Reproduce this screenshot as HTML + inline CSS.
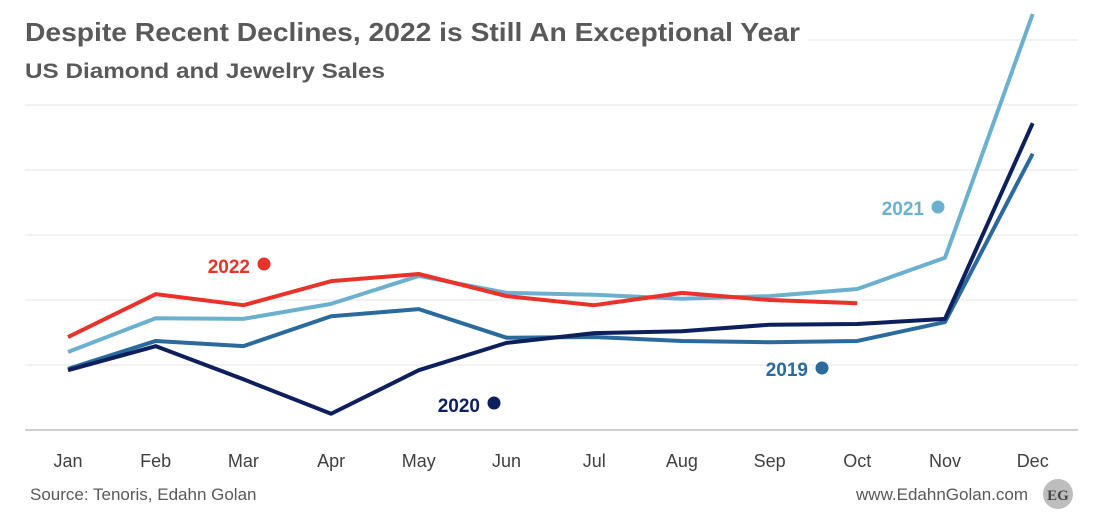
<!DOCTYPE html>
<html><head><meta charset="utf-8"><style>
body{margin:0;background:#fff;width:1119px;height:524px;overflow:hidden;font-family:"Liberation Sans",sans-serif}
</style></head><body>
<svg id="c" width="1119" height="524">
<g id="grid"></g><g id="lines"></g><g id="labels"></g>
<rect x="20" y="10" width="788" height="40" fill="#fff"/>
<text x="25" y="41" font-size="26" font-weight="bold" fill="#595959" textLength="775" lengthAdjust="spacingAndGlyphs">Despite Recent Declines, 2022 is Still An Exceptional Year</text>
<text x="25" y="78" font-size="21" font-weight="bold" fill="#595959" textLength="360" lengthAdjust="spacingAndGlyphs">US Diamond and Jewelry Sales</text>
<text x="30" y="500" font-size="17" fill="#595959">Source: Tenoris, Edahn Golan</text>
<text x="1028" y="500" font-size="17" fill="#595959" text-anchor="end">www.EdahnGolan.com</text>
<circle cx="1058" cy="494" r="15" fill="#bdbdbd"/>
<text x="1058" y="500" font-size="15" font-weight="bold" fill="#444" text-anchor="middle" font-family="Liberation Serif,serif">EG</text>
</svg>
<script>
const months=["Jan","Feb","Mar","Apr","May","Jun","Jul","Aug","Sep","Oct","Nov","Dec"];
const gridTicks=[0,1,2,3,4,5,6];
const s2019=[0.94,1.37,1.29,1.75,1.86,1.42,1.43,1.37,1.35,1.37,1.66,4.25];
const s2020=[0.92,1.29,0.78,0.25,0.92,1.34,1.49,1.52,1.62,1.63,1.71,4.72];
const s2021=[1.2,1.72,1.71,1.94,2.37,2.11,2.08,2.02,2.06,2.17,2.65,6.4];
const s2022=[1.43,2.09,1.92,2.29,2.4,2.06,1.92,2.11,2.0,1.95];
const NS="http://www.w3.org/2000/svg";
const x=i=>68+i*87.7, y=v=>430-v*65;
function mk(t,a,p){const e=document.createElementNS(NS,t);for(const k in a)e.setAttribute(k,a[k]);p.appendChild(e);return e;}
const g=document.getElementById('grid');
gridTicks.forEach(t=>{const l=mk('line',{x1:25,x2:1078,y1:y(t),y2:y(t),stroke:t==0?'#bfbfbf':'#e6e6e6','stroke-width':t==0?1.5:1},g);

});
months.forEach((m,i)=>{const t=mk('text',{x:x(i),y:467,'font-size':18,fill:'#404040','text-anchor':'middle'},g);t.textContent=m;

});
const L=document.getElementById('lines');
const series=[[s2019,'#2b6a9c','line-2019'],[s2020,'#0d1f5c','line-2020'],[s2021,'#6cb0cf','line-2021'],[s2022,'#e8322a','line-2022']];
series.forEach(([d,c,n])=>{const p=mk('polyline',{points:d.map((v,i)=>x(i)+','+y(v)).join(' '),fill:'none',stroke:c,'stroke-width':4,'stroke-linejoin':'round'},L);

});
const lab=document.getElementById('labels');
[["2022",'#e8322a',250,273,264],["2021",'#6cb0cf',924,215,207],["2020",'#0d1f5c',480,412,403],["2019",'#2b6a9c',808,376,368]].forEach(([t,c,tx,ty,cy])=>{
const e=mk('text',{x:tx,y:ty,'font-size':19,'font-weight':'bold',fill:c,'text-anchor':'end'},lab);e.textContent=t;


const d=mk('circle',{cx:tx+14,cy:cy,r:6.5,fill:c},lab);

});
</script>
</body></html>
